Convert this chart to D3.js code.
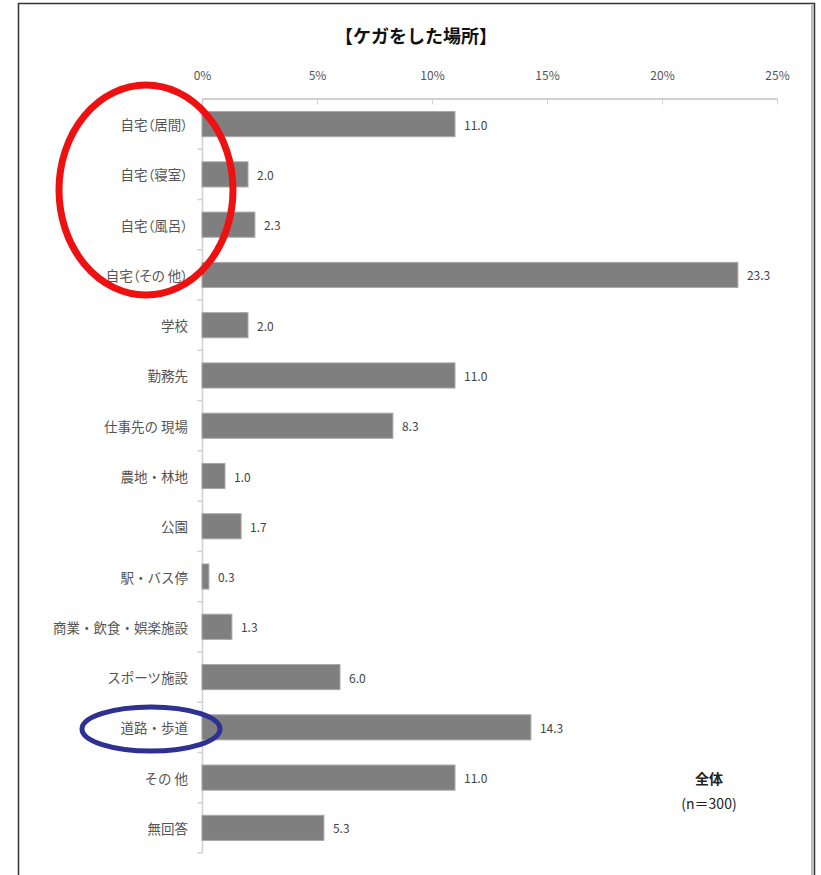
<!DOCTYPE html>
<html lang="ja">
<head>
<meta charset="utf-8">
<script src="https://cdn.jsdelivr.net/npm/d3@7"></script>
<style>
  html, body { margin: 0; padding: 0; background: #fff; }
  svg { display: block; font-family: "Noto Sans CJK JP", "Noto Sans", sans-serif; }
</style>
</head>
<body>
<svg id="chart" width="821" height="875"></svg>
<script>
// 【ケガをした場所】 — 全体 (n=300), percentages
const categories = [
  "自宅（居間）", "自宅（寝室）", "自宅（風呂）", "自宅（その 他）", "学校", "勤務先",
  "仕事先の 現場", "農地・林地", "公園", "駅・バス停", "商業・飲食・娯楽施設",
  "スポーツ施設", "道路・歩道", "その 他", "無回答"
];
const values = [11.0, 2.0, 2.3, 23.3, 2.0, 11.0, 8.3, 1.0, 1.7, 0.3, 1.3, 6.0, 14.3, 11.0, 5.3];
const xTicks = [0, 5, 10, 15, 20, 25];
const title = "【ケガをした場所】";
const noteLines = ["全体", "(n＝300)"];

const svg = d3.select("#chart");

// outer frame
svg.append("rect")
  .attr("x", 18.5).attr("y", 3.5).attr("width", 796).attr("height", 875)
  .attr("fill", "none").attr("stroke", "#333").attr("stroke-width", 1.5);
svg.append("line")
  .attr("x1", 812.5).attr("x2", 812.5).attr("y1", 5).attr("y2", 875)
  .attr("stroke", "#bbb").attr("stroke-width", 3);

const x = d3.scaleLinear().domain([0, 25]).range([202, 777]);
const y = d3.scaleBand().domain(categories).range([99, 853]).paddingInner(0.5).paddingOuter(0.25);

// title
svg.append("text")
  .attr("x", 416).attr("y", 35).attr("text-anchor", "middle").attr("dominant-baseline", "central")
  .attr("font-size", 18).attr("font-weight", "bold").attr("fill", "#111")
  .text(title);

// top axis
const xAxis = d3.axisTop(x).tickValues(xTicks).tickFormat(d => d + "%").tickSize(0).tickPadding(0);
const gx = svg.append("g").attr("transform", "translate(0,98.5)").call(xAxis);
gx.select(".domain").attr("stroke", "#d0d0d0").attr("stroke-width", 2);
gx.selectAll(".tick text").attr("y", -19).attr("font-size", 12).attr("fill", "#555")
  .attr("font-family", "'Noto Sans CJK JP', sans-serif");
gx.selectAll(".tick").append("line").attr("y1", 0).attr("y2", 6).attr("stroke", "#d0d0d0");

// left axis with ticks between categories
const gy = svg.append("g").attr("transform", "translate(202.5,0)");
gy.append("line").attr("y1", 99).attr("y2", 853).attr("stroke", "#d0d0d0").attr("stroke-width", 1.5);
const boundaries = d3.range(1, categories.length + 1).map(i => y(categories[i - 1]) + y.bandwidth() + y.step() * y.paddingInner() / 2);
gy.selectAll("line.tk").data(boundaries).join("line").attr("class", "tk")
  .attr("x1", -5).attr("x2", 0).attr("y1", d => d).attr("y2", d => d)
  .attr("stroke", "#d0d0d0").attr("stroke-width", 1.5);

// category labels; parenthesised ones use proportional alternates for tighter brackets
svg.append("g").selectAll("text").data(categories).join("text")
  .attr("x", 188).attr("y", d => y(d) + y.bandwidth() / 2)
  .attr("text-anchor", "end").attr("dominant-baseline", "central")
  .attr("font-size", 13.5).attr("fill", "#555")
  .style("font-feature-settings", d => d.includes("（") ? "'palt' 1" : "normal")
  .text(d => d);

// bars
svg.append("g").selectAll("rect").data(values).join("rect")
  .attr("x", x(0)).attr("y", (d, i) => y(categories[i]))
  .attr("width", d => x(d) - x(0)).attr("height", y.bandwidth())
  .attr("fill", "#7f7f7f").attr("stroke", "#a8a8a8").attr("stroke-width", 1);

// value labels
svg.append("g").selectAll("text").data(values).join("text")
  .attr("x", d => x(d) + 9).attr("y", (d, i) => y(categories[i]) + y.bandwidth() / 2)
  .attr("dominant-baseline", "central")
  .attr("font-size", 12).attr("fill", "#444")
  .text(d => d.toFixed(1));

// sample note
svg.append("g").selectAll("text").data(noteLines).join("text")
  .attr("x", 709).attr("y", (d, i) => 778 + i * 25)
  .attr("text-anchor", "middle").attr("dominant-baseline", "central")
  .attr("font-size", 14).attr("font-weight", (d, i) => i === 0 ? "bold" : "normal")
  .attr("fill", "#222")
  .text(d => d);

// highlight rings
svg.append("ellipse")
  .attr("cx", 146).attr("cy", 190).attr("rx", 87).attr("ry", 105)
  .attr("fill", "none").attr("stroke", "#ee1111").attr("stroke-width", 7);
svg.append("ellipse")
  .attr("cx", 151).attr("cy", 729).attr("rx", 69).attr("ry", 22)
  .attr("fill", "none").attr("stroke", "#2e3192").attr("stroke-width", 5);
</script>
</body>
</html>
